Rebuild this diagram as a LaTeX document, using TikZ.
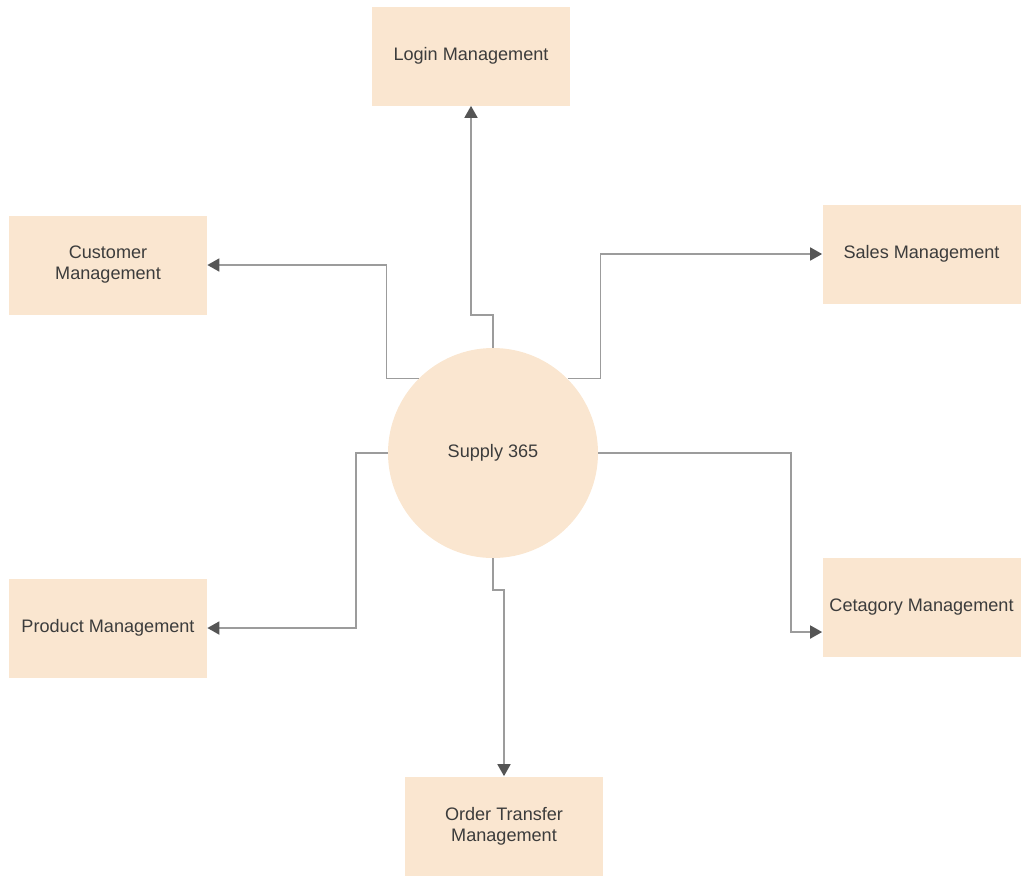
\documentclass[tikz,border=0pt]{standalone}
\usepackage{fontspec}
\setmainfont{Liberation Sans}
\usetikzlibrary{shapes,arrows.meta,positioning,calc}
\usepackage{xcolor}
\definecolor{peach}{HTML}{FAE6D0}
\definecolor{wire}{HTML}{9C9C9C}
\definecolor{tip}{HTML}{555555}
\definecolor{ink}{HTML}{3C3C3C}

\begin{document}
\begin{tikzpicture}[
  box/.style={rectangle, fill=peach, minimum width=3.96cm, minimum height=1.98cm, align=center, text=ink, font=\fontsize{10.3}{12}\selectfont},
  hubnode/.style={circle, fill=peach, minimum size=4.2cm, text=ink, font=\fontsize{10.3}{12}\selectfont},
  arr/.style={-{Triangle[length=2.4mm, width=2.6mm, color=tip]}, wire, line width=1pt}
]
  \useasboundingbox (0,0) rectangle (20.42,-17.54);

  \node[hubnode] (hub) at (9.86,-9.06) {Supply 365};

  \node[box] (login) at (9.42,-1.12) {Login Management};
  \node[box] (cust) at (2.16,-5.30) {Customer\\Management};
  \node[box] (sales) at (18.43,-5.08) {Sales Management};
  \node[box] (prod) at (2.16,-12.56) {Product Management};
  \node[box] (cat) at (18.43,-12.14) {Cetagory Management};
  \node[box] (order) at (10.08,-16.52) {Order Transfer\\Management};

  \draw[arr] (hub.north) -- ++(0,0.66) -| (login.south);
  \draw[arr] (hub.north west) -- ++(-0.64,0) |- (cust.east);
  \draw[arr] (hub.north east) -- ++(0.66,0) |- (sales.west);
  \draw[arr] (hub.west) -- ++(-0.64,0) |- (prod.east);
  \draw[arr] (hub.east) -- ++(3.86,0) |- ([yshift=-0.5cm]cat.west);
  \draw[arr] (hub.south) -- ++(0,-0.64) -| (order.north);
\end{tikzpicture}
\end{document}
